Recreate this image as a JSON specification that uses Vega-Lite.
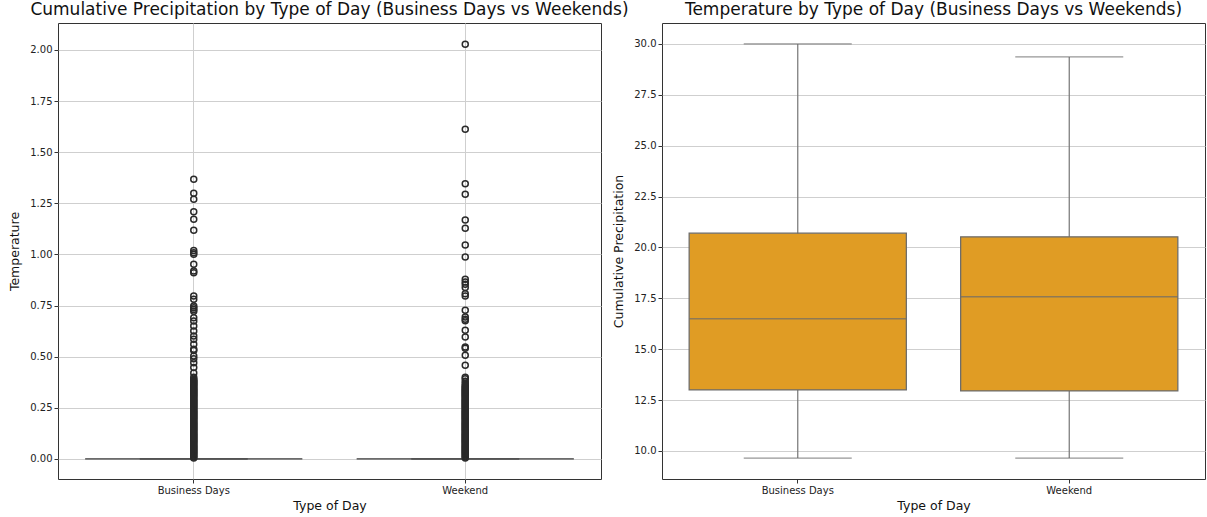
{
  "$schema": "https://vega.github.io/schema/vega-lite/v6.json",
  "padding": {"left": 8, "top": 0, "right": 2, "bottom": 2},
  "background": "white",
  "config": {
    "font": "DejaVu Sans",
    "view": {"stroke": "#333333", "strokeWidth": 1},
    "axis": {
      "domain": false,
      "grid": true,
      "gridColor": "#cfcfcf",
      "gridWidth": 1,
      "tickColor": "#333333",
      "tickSize": 4,
      "labelColor": "#222222",
      "labelFontSize": 10,
      "labelFont": "DejaVu Sans",
      "titleFont": "DejaVu Sans",
      "titleFontSize": 12.5,
      "titleFontWeight": "normal",
      "titleColor": "#111111"
    },
    "title": {"font": "DejaVu Sans", "fontSize": 17, "fontWeight": "normal", "color": "#111111", "offset": 4, "anchor": "middle"}
  },
  "datasets": {
    "precipBoxes": [
      {"day": "Business Days", "lower": 0, "q1": 0, "median": 0, "q3": 0, "upper": 0},
      {"day": "Weekend", "lower": 0, "q1": 0, "median": 0, "q3": 0, "upper": 0}
    ],
    "tempBoxes": [
      {"day": "Business Days", "lower": 9.65, "q1": 13.0, "median": 16.5, "q3": 20.7, "upper": 30.0},
      {"day": "Weekend", "lower": 9.65, "q1": 12.95, "median": 17.58, "q3": 20.52, "upper": 29.36}
    ],
    "outliers": [
      {"day": "Business Days", "v": 1.368}, {"day": "Business Days", "v": 1.299}, {"day": "Business Days", "v": 1.270},
      {"day": "Business Days", "v": 1.209}, {"day": "Business Days", "v": 1.172}, {"day": "Business Days", "v": 1.118},
      {"day": "Business Days", "v": 1.020}, {"day": "Business Days", "v": 1.009}, {"day": "Business Days", "v": 1.001},
      {"day": "Business Days", "v": 0.952}, {"day": "Business Days", "v": 0.919}, {"day": "Business Days", "v": 0.911},
      {"day": "Business Days", "v": 0.797}, {"day": "Business Days", "v": 0.781}, {"day": "Business Days", "v": 0.748},
      {"day": "Business Days", "v": 0.740}, {"day": "Business Days", "v": 0.731}, {"day": "Business Days", "v": 0.722},
      {"day": "Business Days", "v": 0.691}, {"day": "Business Days", "v": 0.675}, {"day": "Business Days", "v": 0.650},
      {"day": "Business Days", "v": 0.626}, {"day": "Business Days", "v": 0.601}, {"day": "Business Days", "v": 0.585},
      {"day": "Business Days", "v": 0.561}, {"day": "Business Days", "v": 0.536}, {"day": "Business Days", "v": 0.530},
      {"day": "Business Days", "v": 0.504}, {"day": "Business Days", "v": 0.490}, {"day": "Business Days", "v": 0.471},
      {"day": "Business Days", "v": 0.447}, {"day": "Business Days", "v": 0.420}, {"day": "Business Days", "v": 0.400},
      {"day": "Business Days", "v": 0.390}, {"day": "Business Days", "v": 0.385}, {"day": "Business Days", "v": 0.380},
      {"day": "Business Days", "v": 0.375}, {"day": "Business Days", "v": 0.370}, {"day": "Business Days", "v": 0.365},
      {"day": "Business Days", "v": 0.360}, {"day": "Business Days", "v": 0.355}, {"day": "Business Days", "v": 0.350},
      {"day": "Business Days", "v": 0.345}, {"day": "Business Days", "v": 0.340}, {"day": "Business Days", "v": 0.335},
      {"day": "Business Days", "v": 0.330}, {"day": "Business Days", "v": 0.325}, {"day": "Business Days", "v": 0.320},
      {"day": "Business Days", "v": 0.315}, {"day": "Business Days", "v": 0.310}, {"day": "Business Days", "v": 0.305},
      {"day": "Business Days", "v": 0.300}, {"day": "Business Days", "v": 0.295}, {"day": "Business Days", "v": 0.290},
      {"day": "Business Days", "v": 0.285}, {"day": "Business Days", "v": 0.280}, {"day": "Business Days", "v": 0.275},
      {"day": "Business Days", "v": 0.270}, {"day": "Business Days", "v": 0.265}, {"day": "Business Days", "v": 0.260},
      {"day": "Business Days", "v": 0.255}, {"day": "Business Days", "v": 0.250}, {"day": "Business Days", "v": 0.245},
      {"day": "Business Days", "v": 0.240}, {"day": "Business Days", "v": 0.235}, {"day": "Business Days", "v": 0.230},
      {"day": "Business Days", "v": 0.225}, {"day": "Business Days", "v": 0.220}, {"day": "Business Days", "v": 0.215},
      {"day": "Business Days", "v": 0.210}, {"day": "Business Days", "v": 0.205}, {"day": "Business Days", "v": 0.200},
      {"day": "Business Days", "v": 0.195}, {"day": "Business Days", "v": 0.190}, {"day": "Business Days", "v": 0.185},
      {"day": "Business Days", "v": 0.180}, {"day": "Business Days", "v": 0.175}, {"day": "Business Days", "v": 0.170},
      {"day": "Business Days", "v": 0.165}, {"day": "Business Days", "v": 0.160}, {"day": "Business Days", "v": 0.155},
      {"day": "Business Days", "v": 0.150}, {"day": "Business Days", "v": 0.145}, {"day": "Business Days", "v": 0.140},
      {"day": "Business Days", "v": 0.135}, {"day": "Business Days", "v": 0.130}, {"day": "Business Days", "v": 0.125},
      {"day": "Business Days", "v": 0.120}, {"day": "Business Days", "v": 0.115}, {"day": "Business Days", "v": 0.110},
      {"day": "Business Days", "v": 0.105}, {"day": "Business Days", "v": 0.100}, {"day": "Business Days", "v": 0.095},
      {"day": "Business Days", "v": 0.090}, {"day": "Business Days", "v": 0.085}, {"day": "Business Days", "v": 0.080},
      {"day": "Business Days", "v": 0.075}, {"day": "Business Days", "v": 0.070}, {"day": "Business Days", "v": 0.065},
      {"day": "Business Days", "v": 0.060}, {"day": "Business Days", "v": 0.055}, {"day": "Business Days", "v": 0.050},
      {"day": "Business Days", "v": 0.045}, {"day": "Business Days", "v": 0.040}, {"day": "Business Days", "v": 0.035},
      {"day": "Business Days", "v": 0.030}, {"day": "Business Days", "v": 0.025}, {"day": "Business Days", "v": 0.020},
      {"day": "Business Days", "v": 0.015}, {"day": "Business Days", "v": 0.010}, {"day": "Business Days", "v": 0.005},
      {"day": "Weekend", "v": 2.028}, {"day": "Weekend", "v": 1.612}, {"day": "Weekend", "v": 1.346},
      {"day": "Weekend", "v": 1.294}, {"day": "Weekend", "v": 1.169}, {"day": "Weekend", "v": 1.128},
      {"day": "Weekend", "v": 1.046}, {"day": "Weekend", "v": 0.988}, {"day": "Weekend", "v": 0.879},
      {"day": "Weekend", "v": 0.866}, {"day": "Weekend", "v": 0.855}, {"day": "Weekend", "v": 0.838},
      {"day": "Weekend", "v": 0.808}, {"day": "Weekend", "v": 0.797}, {"day": "Weekend", "v": 0.727},
      {"day": "Weekend", "v": 0.694}, {"day": "Weekend", "v": 0.683}, {"day": "Weekend", "v": 0.676},
      {"day": "Weekend", "v": 0.629}, {"day": "Weekend", "v": 0.597}, {"day": "Weekend", "v": 0.548},
      {"day": "Weekend", "v": 0.542}, {"day": "Weekend", "v": 0.507}, {"day": "Weekend", "v": 0.458},
      {"day": "Weekend", "v": 0.400}, {"day": "Weekend", "v": 0.392}, {"day": "Weekend", "v": 0.380},
      {"day": "Weekend", "v": 0.370}, {"day": "Weekend", "v": 0.360}, {"day": "Weekend", "v": 0.355},
      {"day": "Weekend", "v": 0.350}, {"day": "Weekend", "v": 0.345}, {"day": "Weekend", "v": 0.340},
      {"day": "Weekend", "v": 0.335}, {"day": "Weekend", "v": 0.330}, {"day": "Weekend", "v": 0.325},
      {"day": "Weekend", "v": 0.320}, {"day": "Weekend", "v": 0.315}, {"day": "Weekend", "v": 0.310},
      {"day": "Weekend", "v": 0.305}, {"day": "Weekend", "v": 0.300}, {"day": "Weekend", "v": 0.295},
      {"day": "Weekend", "v": 0.290}, {"day": "Weekend", "v": 0.285}, {"day": "Weekend", "v": 0.280},
      {"day": "Weekend", "v": 0.275}, {"day": "Weekend", "v": 0.270}, {"day": "Weekend", "v": 0.265},
      {"day": "Weekend", "v": 0.260}, {"day": "Weekend", "v": 0.255}, {"day": "Weekend", "v": 0.250},
      {"day": "Weekend", "v": 0.245}, {"day": "Weekend", "v": 0.240}, {"day": "Weekend", "v": 0.235},
      {"day": "Weekend", "v": 0.230}, {"day": "Weekend", "v": 0.225}, {"day": "Weekend", "v": 0.220},
      {"day": "Weekend", "v": 0.215}, {"day": "Weekend", "v": 0.210}, {"day": "Weekend", "v": 0.205},
      {"day": "Weekend", "v": 0.200}, {"day": "Weekend", "v": 0.195}, {"day": "Weekend", "v": 0.190},
      {"day": "Weekend", "v": 0.185}, {"day": "Weekend", "v": 0.180}, {"day": "Weekend", "v": 0.175},
      {"day": "Weekend", "v": 0.170}, {"day": "Weekend", "v": 0.165}, {"day": "Weekend", "v": 0.160},
      {"day": "Weekend", "v": 0.155}, {"day": "Weekend", "v": 0.150}, {"day": "Weekend", "v": 0.145},
      {"day": "Weekend", "v": 0.140}, {"day": "Weekend", "v": 0.135}, {"day": "Weekend", "v": 0.130},
      {"day": "Weekend", "v": 0.125}, {"day": "Weekend", "v": 0.120}, {"day": "Weekend", "v": 0.115},
      {"day": "Weekend", "v": 0.110}, {"day": "Weekend", "v": 0.105}, {"day": "Weekend", "v": 0.100},
      {"day": "Weekend", "v": 0.095}, {"day": "Weekend", "v": 0.090}, {"day": "Weekend", "v": 0.085},
      {"day": "Weekend", "v": 0.080}, {"day": "Weekend", "v": 0.075}, {"day": "Weekend", "v": 0.070},
      {"day": "Weekend", "v": 0.065}, {"day": "Weekend", "v": 0.060}, {"day": "Weekend", "v": 0.055},
      {"day": "Weekend", "v": 0.050}, {"day": "Weekend", "v": 0.045}, {"day": "Weekend", "v": 0.040},
      {"day": "Weekend", "v": 0.035}, {"day": "Weekend", "v": 0.030}, {"day": "Weekend", "v": 0.025},
      {"day": "Weekend", "v": 0.020}, {"day": "Weekend", "v": 0.015}, {"day": "Weekend", "v": 0.010},
      {"day": "Weekend", "v": 0.005}
    ]
  },
  "hconcat": [
    {
      "width": 543,
      "height": 456,
      "title": {"text": "Cumulative Precipitation by Type of Day (Business Days vs Weekends)"},
      "layer": [
        {
          "data": {"name": "precipBoxes"},
          "mark": {"type": "rule", "color": "#3c3c3c", "strokeWidth": 1.25},
          "encoding": {
            "x": {"field": "day", "type": "nominal", "sort": ["Business Days", "Weekend"],
                  "scale": {"paddingInner": 0, "paddingOuter": 0},
                  "axis": {"title": "Type of Day", "labelAngle": 0, "grid": true, "bandPosition": 0.5, "titlePadding": 4}},
            "y": {"field": "lower", "type": "quantitative",
                  "scale": {"domain": [-0.098, 2.132], "nice": false, "zero": false},
                  "axis": {"title": "Temperature", "values": [0, 0.25, 0.5, 0.75, 1.0, 1.25, 1.5, 1.75, 2.0], "format": ".2f", "titlePadding": 8}},
            "y2": {"field": "upper"}
          }
        },
        {
          "data": {"name": "precipBoxes"},
          "mark": {"type": "bar", "width": {"band": 0.8}, "fill": "#3274a1", "stroke": "#3c3c3c", "strokeWidth": 1.25},
          "encoding": {
            "x": {"field": "day", "type": "nominal", "sort": ["Business Days", "Weekend"]},
            "y": {"field": "q1", "type": "quantitative"},
            "y2": {"field": "q3"}
          }
        },
        {
          "data": {"name": "precipBoxes"},
          "mark": {"type": "tick", "color": "#3c3c3c", "size": 108, "thickness": 1.5, "orient": "horizontal"},
          "encoding": {
            "x": {"field": "day", "type": "nominal", "sort": ["Business Days", "Weekend"]},
            "y": {"field": "upper", "type": "quantitative"}
          }
        },
        {
          "data": {"name": "outliers"},
          "mark": {"type": "point", "shape": "circle", "filled": false, "stroke": "#2a2a2a", "strokeWidth": 1.5, "size": 36, "opacity": 1},
          "encoding": {
            "x": {"field": "day", "type": "nominal", "sort": ["Business Days", "Weekend"]},
            "y": {"field": "v", "type": "quantitative"}
          }
        }
      ]
    },
    {
      "width": 543,
      "height": 456,
      "title": {"text": "Temperature by Type of Day (Business Days vs Weekends)"},
      "layer": [
        {
          "data": {"name": "tempBoxes"},
          "mark": {"type": "rule", "color": "#7a7a7a", "strokeWidth": 1.25},
          "encoding": {
            "x": {"field": "day", "type": "nominal", "sort": ["Business Days", "Weekend"],
                  "scale": {"paddingInner": 0, "paddingOuter": 0},
                  "axis": {"title": "Type of Day", "labelAngle": 0, "grid": false, "bandPosition": 0.5, "titlePadding": 4}},
            "y": {"field": "lower", "type": "quantitative",
                  "scale": {"domain": [8.62, 31.03], "nice": false, "zero": false},
                  "axis": {"title": "Cumulative Precipitation", "values": [10, 12.5, 15, 17.5, 20, 22.5, 25, 27.5, 30], "format": ".1f", "titlePadding": 8}},
            "y2": {"field": "upper"}
          }
        },
        {
          "data": {"name": "tempBoxes"},
          "mark": {"type": "bar", "width": {"band": 0.8}, "fill": "#e09c24", "stroke": "#6b6b6b", "strokeWidth": 1.25},
          "encoding": {
            "x": {"field": "day", "type": "nominal", "sort": ["Business Days", "Weekend"]},
            "y": {"field": "q1", "type": "quantitative"},
            "y2": {"field": "q3"}
          }
        },
        {
          "data": {"name": "tempBoxes"},
          "mark": {"type": "tick", "color": "#6b6b6b", "size": 217, "thickness": 1.5, "orient": "horizontal"},
          "encoding": {
            "x": {"field": "day", "type": "nominal", "sort": ["Business Days", "Weekend"]},
            "y": {"field": "median", "type": "quantitative"}
          }
        },
        {
          "data": {"name": "tempBoxes"},
          "mark": {"type": "tick", "color": "#6b6b6b", "size": 108, "thickness": 1.25, "orient": "horizontal"},
          "encoding": {
            "x": {"field": "day", "type": "nominal", "sort": ["Business Days", "Weekend"]},
            "y": {"field": "upper", "type": "quantitative"}
          }
        },
        {
          "data": {"name": "tempBoxes"},
          "mark": {"type": "tick", "color": "#6b6b6b", "size": 108, "thickness": 1.25, "orient": "horizontal"},
          "encoding": {
            "x": {"field": "day", "type": "nominal", "sort": ["Business Days", "Weekend"]},
            "y": {"field": "lower", "type": "quantitative"}
          }
        }
      ]
    }
  ],
  "bounds": "flush",
  "spacing": 61
}
